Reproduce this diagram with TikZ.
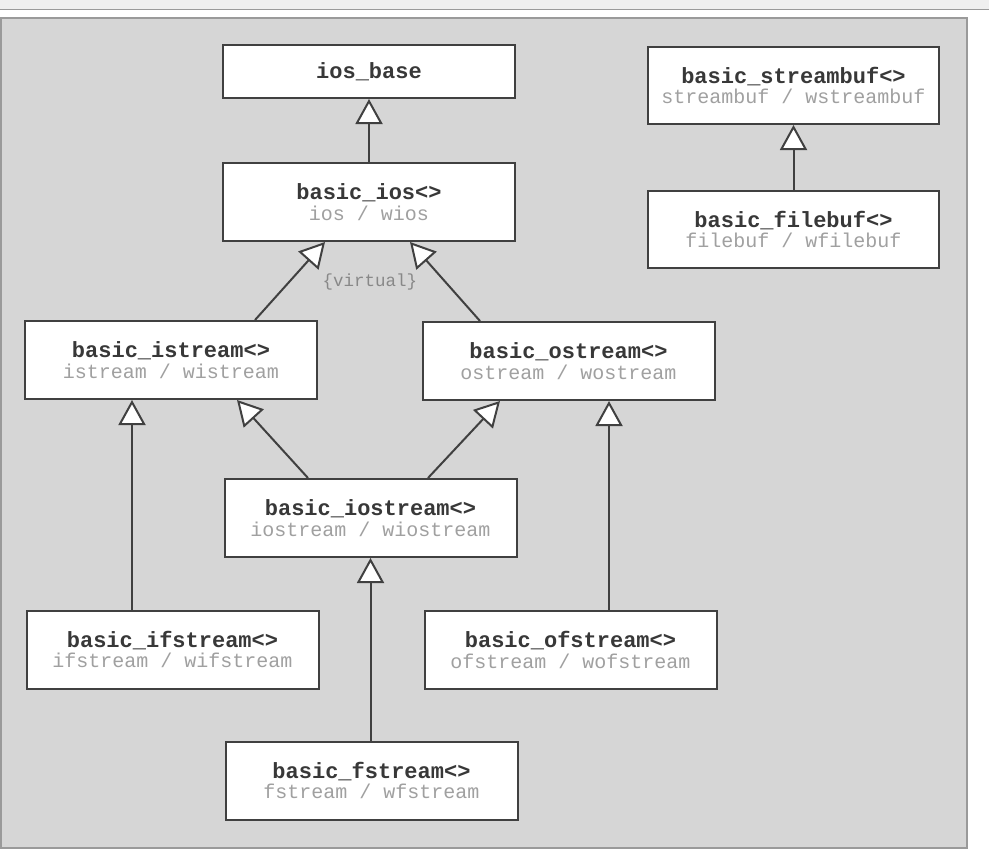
\documentclass[tikz,border=0pt]{standalone}
\usepackage{fontspec}
\setmonofont{Liberation Mono}
\usetikzlibrary{arrows.meta,calc}
\definecolor{panelfill}{HTML}{D6D6D6}
\definecolor{panelline}{HTML}{9A9A9A}
\definecolor{stripfill}{HTML}{EFEFEF}
\definecolor{boxline}{HTML}{404040}
\definecolor{titlecol}{HTML}{383838}
\definecolor{subcol}{HTML}{A0A0A0}
\definecolor{virtcol}{HTML}{888888}
\newcommand{\clstitle}[1]{{\fontsize{22}{23}\selectfont\ttfamily\bfseries\color{titlecol}#1}}
\newcommand{\clssub}[1]{{\fontsize{20}{23}\selectfont\ttfamily\color{subcol}#1}}
\begin{document}
\begin{tikzpicture}[x=1pt,y=-1pt,
  classbox/.style={draw=boxline,line width=2pt,fill=white,minimum width=292pt,minimum height=78pt,align=center,inner sep=0pt},
  inherit/.style={draw=boxline,line width=2pt,-{Triangle[width=27pt,length=25pt,fill=white]}}]
\useasboundingbox (0,0) rectangle (989,868);
% page furniture
\fill[stripfill] (0,0) rectangle (989,9);
\draw[panelline,line width=1.2pt] (0,9.5) -- (989,9.5);
\draw[panelline,fill=panelfill,line width=1.5pt] (1,18) rectangle (967,848);
% classes
\node[classbox,minimum height=53pt] (iosbase) at (369,71.5) {\clstitle{ios\_base}};
\node[classbox] (basicios) at (369,202) {\clstitle{basic\_ios<>}\\[3pt]\clssub{ios / wios}};
\node[classbox,minimum width=291pt,minimum height=77pt] (streambuf) at (793.5,85.5) {\clstitle{basic\_streambuf<>}\\[3pt]\clssub{streambuf / wstreambuf}};
\node[classbox,minimum width=291pt,minimum height=77pt] (filebuf) at (793.5,229.5) {\clstitle{basic\_filebuf<>}\\[3pt]\clssub{filebuf / wfilebuf}};
\node[classbox] (istream) at (171,360) {\clstitle{basic\_istream<>}\\[3pt]\clssub{istream / wistream}};
\node[classbox] (ostream) at (568.5,361) {\clstitle{basic\_ostream<>}\\[3pt]\clssub{ostream / wostream}};
\node[classbox] (iostream) at (370.5,518) {\clstitle{basic\_iostream<>}\\[3pt]\clssub{iostream / wiostream}};
\node[classbox] (ifstream) at (172.5,649.5) {\clstitle{basic\_ifstream<>}\\[3pt]\clssub{ifstream / wifstream}};
\node[classbox] (ofstream) at (570.5,650) {\clstitle{basic\_ofstream<>}\\[3pt]\clssub{ofstream / wofstream}};
\node[classbox] (fstream) at (371.5,780.5) {\clstitle{basic\_fstream<>}\\[3pt]\clssub{fstream / wfstream}};
\node[font=\fontsize{17.5}{18}\selectfont\ttfamily,text=virtcol,inner sep=0pt] (virt) at (370,282) {\{virtual\}};
% inheritance
\draw[inherit] (basicios.north) -- (iosbase.south);
\draw[inherit] (filebuf.north) -- (streambuf.south);
\draw[inherit] ($(istream.north)+(84,0)$) -- ($(basicios.south)+(-44,0)$);
\draw[inherit] ($(ostream.north)+(-88.5,0)$) -- ($(basicios.south)+(41,0)$);
\draw[inherit] ($(iostream.north)+(-62.5,0)$) -- ($(istream.south)+(66,0)$);
\draw[inherit] ($(iostream.north)+(57.5,0)$) -- ($(ostream.south)+(-68.5,0)$);
\draw[inherit] ($(ifstream.north)+(-40.5,0)$) -- ($(istream.south)+(-39,0)$);
\draw[inherit] ($(ofstream.north)+(38.5,0)$) -- ($(ostream.south)+(40.5,0)$);
\draw[inherit] (fstream.north -| iostream.south) -- (iostream.south);
\end{tikzpicture}
\end{document}
